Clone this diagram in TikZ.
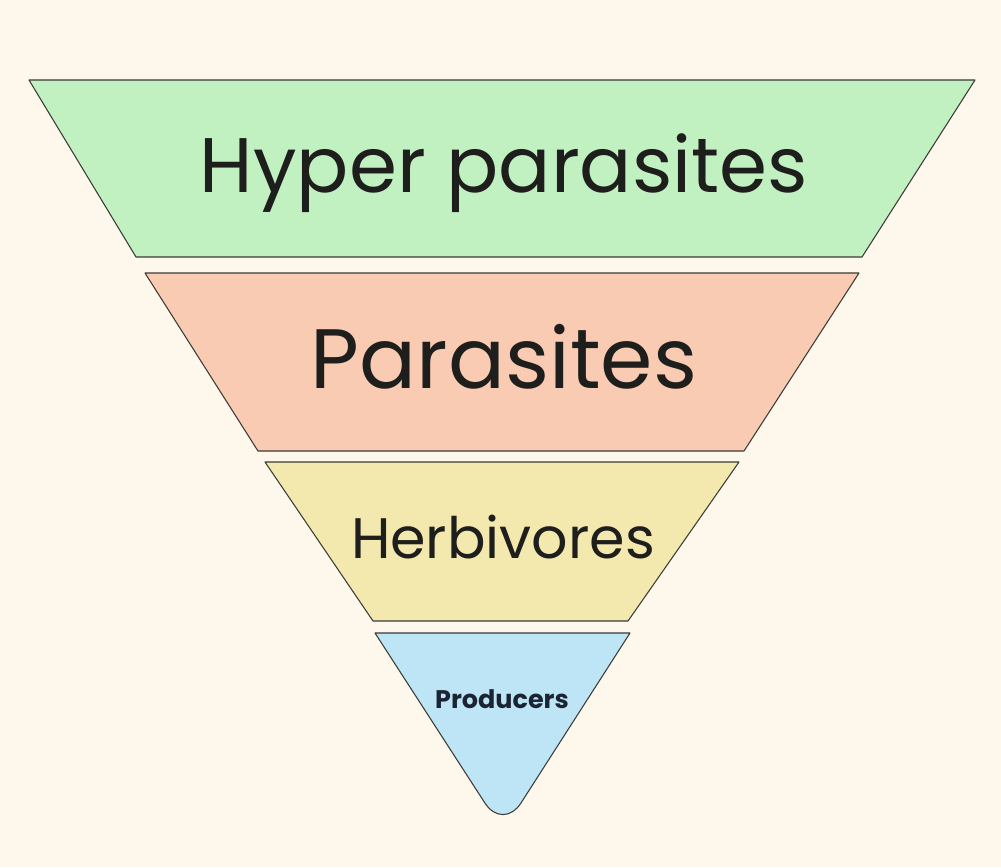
\documentclass[tikz,border=0pt]{standalone}
\usepackage{fontspec}
\setmainfont{Poppins}
\usepackage{tikz}

\definecolor{bgcream}{HTML}{FEF7EB}
\definecolor{hypergreen}{HTML}{C1F0C1}
\definecolor{parapink}{HTML}{F9CBB2}
\definecolor{herbyellow}{HTML}{F3E9AE}
\definecolor{prodblue}{HTML}{BEE5F5}
\definecolor{edgegray}{HTML}{3A3A36}
\definecolor{inkblack}{HTML}{1E1E1C}
\definecolor{inknavy}{HTML}{1B2433}

\tikzset{
  level/.style={draw=edgegray, line width=0.6pt, line join=round},
  label/.style={anchor=base, inner sep=0pt, text=inkblack}
}

\begin{document}
\begin{tikzpicture}[x=0.02cm, y=-0.02cm]

  \fill[bgcream] (0,0) rectangle (1001,867);
  \useasboundingbox (0,0) rectangle (1001,867);

  \draw[level, fill=hypergreen]  (29,80) -- (975,80) -- (862,257) -- (136,257) -- cycle;
  \draw[level, fill=parapink]    (145,273) -- (859,273) -- (744,451) -- (258,451) -- cycle;
  \draw[level, fill=herbyellow]  (265,462) -- (739,462) -- (628,621) -- (373,621) -- cycle;
  \draw[level, fill=prodblue]    (375,633) -- (630,633) [rounded corners=19pt] -- (503,831) [sharp corners] -- (375,633) -- cycle;

  \node[label, font=\fontsize{44}{50}\selectfont]  (hyper) at (504,192) {Hyper parasites};
  \node[label, font=\fontsize{48}{52}\selectfont]  (para)  at (504,388) {Parasites};
  \node[label, font=\fontsize{32.5}{36}\selectfont] (herb) at (503,558) {Herbivores};
  \node[label, text=inknavy, font=\fontsize{14.5}{18}\selectfont\bfseries] (prod) at (502,708) {Producers};

\end{tikzpicture}
\end{document}
